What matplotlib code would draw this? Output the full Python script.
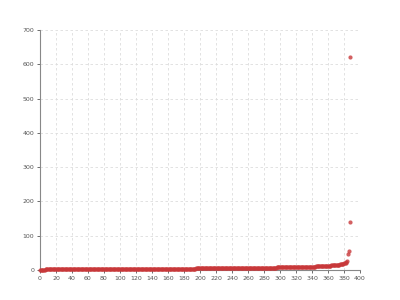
import matplotlib
matplotlib.use("Agg")
import matplotlib.pyplot as plt

# sorted values, one per index
values = [
    0.8, 1.0, 1.1, 1.2, 1.3, 1.4, 1.4, 1.5, 1.5, 1.6, 1.6, 1.7, 1.7, 1.7, 1.8, 1.8, 1.8, 1.9, 1.9, 1.9,
    2.0, 2.0, 2.0, 2.0, 2.1, 2.1, 2.1, 2.1, 2.2, 2.2, 2.2, 2.2, 2.2, 2.3, 2.3, 2.3, 2.3, 2.3, 2.4, 2.4,
    2.4, 2.4, 2.4, 2.4, 2.5, 2.5, 2.5, 2.5, 2.5, 2.5, 2.6, 2.6, 2.6, 2.6, 2.6, 2.6, 2.7, 2.7, 2.7, 2.7,
    2.7, 2.7, 2.7, 2.8, 2.8, 2.8, 2.8, 2.8, 2.8, 2.8, 2.9, 2.9, 2.9, 2.9, 2.9, 2.9, 2.9, 3.0, 3.0, 3.0,
    3.0, 3.0, 3.0, 3.0, 3.0, 3.1, 3.1, 3.1, 3.1, 3.1, 3.1, 3.1, 3.1, 3.2, 3.2, 3.2, 3.2, 3.2, 3.2, 3.2,
    3.2, 3.3, 3.3, 3.3, 3.3, 3.3, 3.3, 3.3, 3.3, 3.4, 3.4, 3.4, 3.4, 3.4, 3.4, 3.4, 3.4, 3.5, 3.5, 3.5,
    3.5, 3.5, 3.5, 3.5, 3.5, 3.5, 3.6, 3.6, 3.6, 3.6, 3.6, 3.6, 3.6, 3.6, 3.6, 3.7, 3.7, 3.7, 3.7, 3.7,
    3.7, 3.7, 3.7, 3.7, 3.8, 3.8, 3.8, 3.8, 3.8, 3.8, 3.8, 3.8, 3.8, 3.9, 3.9, 3.9, 3.9, 3.9, 3.9, 3.9,
    3.9, 3.9, 4.0, 4.0, 4.0, 4.0, 4.0, 4.0, 4.0, 4.0, 4.0, 4.1, 4.1, 4.1, 4.1, 4.1, 4.1, 4.1, 4.1, 4.2,
    4.2, 4.2, 4.2, 4.2, 4.2, 4.2, 4.2, 4.3, 4.3, 4.3, 4.3, 4.3, 4.3, 4.3, 4.3, 4.4, 4.4, 4.4, 4.4, 4.4,
    4.4, 4.4, 4.5, 4.5, 4.5, 4.5, 4.5, 4.5, 4.5, 4.6, 4.6, 4.6, 4.6, 4.6, 4.6, 4.7, 4.7, 4.7, 4.7, 4.7,
    4.7, 4.8, 4.8, 4.8, 4.8, 4.8, 4.9, 4.9, 4.9, 4.9, 4.9, 5.0, 5.0, 5.0, 5.0, 5.0, 5.1, 5.1, 5.1, 5.1,
    5.2, 5.2, 5.2, 5.2, 5.3, 5.3, 5.3, 5.3, 5.4, 5.4, 5.4, 5.4, 5.5, 5.5, 5.5, 5.6, 5.6, 5.6, 5.6, 5.7,
    5.7, 5.7, 5.8, 5.8, 5.8, 5.9, 5.9, 5.9, 6.0, 6.0, 6.0, 6.1, 6.1, 6.2, 6.2, 6.2, 6.3, 6.3, 6.4, 6.4,
    6.5, 6.5, 6.5, 6.6, 6.6, 6.7, 6.7, 6.8, 6.8, 6.9, 6.9, 7.0, 7.0, 7.1, 7.1, 7.2, 7.3, 7.3, 7.4, 7.4,
    7.5, 7.5, 7.6, 7.6, 7.7, 7.7, 7.8, 7.8, 7.9, 7.9, 8.0, 8.0, 8.1, 8.1, 8.2, 8.2, 8.3, 8.3, 8.4, 8.4,
    8.5, 8.5, 8.6, 8.7, 8.7, 8.8, 8.8, 8.9, 9.0, 9.0, 9.1, 9.2, 9.2, 9.3, 9.4, 9.4, 9.5, 9.6, 9.7, 9.8,
    9.8, 9.9, 10.0, 10.1, 10.2, 10.3, 10.4, 10.5, 10.6, 10.7, 10.8, 10.9, 11.0, 11.2, 11.3, 11.5, 11.6, 11.8, 12.0, 12.2,
    12.4, 12.6, 12.8, 13.0, 13.2, 13.4, 13.6, 13.8, 14.0, 14.3, 14.6, 14.9, 15.2, 15.5, 15.9, 16.3, 16.7, 17.2, 17.7, 18.3,
    19.5, 20.5, 21.5, 23.0, 25.0, 48.0, 56.0, 141.0, 620.0,
]
index = list(range(len(values)))

x_ticks = list(range(0, 401, 20))
y_ticks = list(range(0, 701, 100))

fig = plt.figure(figsize=(4, 3), dpi=100)
ax = fig.add_axes([0.1, 0.1, 0.8, 0.8])

ax.scatter(index, values, s=9, color="#c8383a", alpha=0.8, linewidths=0, zorder=3, clip_on=False)

ax.set_xlim(0, 400)
ax.set_ylim(0, 700)
ax.set_xticks(x_ticks)
ax.set_yticks(y_ticks)
ax.grid(True, color="#dddddd", linestyle=(0, (3, 3)), linewidth=0.6)
ax.set_axisbelow(True)

for side in ["top", "right"]:
    ax.spines[side].set_visible(False)
for side in ["left", "bottom"]:
    ax.spines[side].set_color("#888888")
    ax.spines[side].set_linewidth(0.8)

ax.tick_params(labelsize=4.5, colors="#555555", length=2, width=0.6, pad=2)

plt.savefig("out.png", dpi=100)
